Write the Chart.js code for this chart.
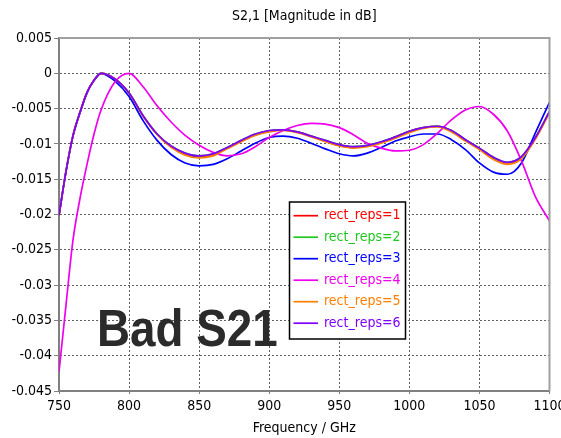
<!DOCTYPE html>
<html>
<head>
<meta charset="utf-8">
<script src="https://cdn.jsdelivr.net/npm/chart.js@4"></script>
<style>
  html, body { margin: 0; padding: 0; background: #fff; }
  #wrap { width: 561px; height: 438px; }
</style>
</head>
<body>
<div id="wrap"><canvas id="chart" width="561" height="438"></canvas></div>
<script>
const FONT = '"DejaVu Sans Condensed", "DejaVu Sans", sans-serif';

const freq = [750, 755, 760, 765, 770, 775, 780, 790, 800, 810, 820, 830, 840, 850, 860, 870, 880, 890, 900,
    910, 920, 930, 940, 950, 960, 970, 980, 990, 1000, 1010, 1020, 1030, 1040, 1050, 1060, 1070, 1080, 1090, 1100];

const reps1 = [-0.0201, -0.0139, -0.0088, -0.0055, -0.0027, -0.0010, 0.0000, -0.0008, -0.0028, -0.0060, -0.0086,
    -0.0104, -0.0114, -0.0118, -0.0115, -0.0106, -0.0096, -0.0087, -0.0082, -0.0080, -0.0083, -0.0089, -0.0096,
    -0.0102, -0.0105, -0.0103, -0.0098, -0.0090, -0.0082, -0.0077, -0.0075, -0.0081, -0.0094, -0.0107, -0.0120,
    -0.0127, -0.0119, -0.0091, -0.0055];
const reps2 = [-0.0201, -0.0139, -0.0088, -0.0055, -0.0027, -0.0010, 0.0000, -0.0008, -0.0028, -0.0060, -0.0086,
    -0.0103, -0.0113, -0.0117, -0.0114, -0.0105, -0.0095, -0.0086, -0.0081, -0.0080, -0.0083, -0.0089, -0.0095,
    -0.0101, -0.0104, -0.0102, -0.0097, -0.0090, -0.0082, -0.0077, -0.0075, -0.0081, -0.0094, -0.0106, -0.0119,
    -0.0126, -0.0118, -0.0091, -0.0054];
const reps3 = [-0.0201, -0.0139, -0.0089, -0.0056, -0.0028, -0.0010, 0.0000, -0.0011, -0.0033, -0.0067, -0.0095,
    -0.0115, -0.0127, -0.0131, -0.0129, -0.0121, -0.0110, -0.0099, -0.0091, -0.0089, -0.0092, -0.0099, -0.0107,
    -0.0114, -0.0117, -0.0113, -0.0105, -0.0096, -0.0090, -0.0086, -0.0086, -0.0094, -0.0108, -0.0127, -0.0140,
    -0.0143, -0.0127, -0.0084, -0.0041];
const reps4 = [-0.0423, -0.0328, -0.0236, -0.0177, -0.0129, -0.0086, -0.0052, -0.0012, 0.0000, -0.0019, -0.0046,
    -0.0069, -0.0088, -0.0102, -0.0112, -0.0117, -0.0114, -0.0104, -0.0091, -0.0081, -0.0074, -0.0071, -0.0072,
    -0.0077, -0.0087, -0.0099, -0.0106, -0.0110, -0.0109, -0.0101, -0.0085, -0.0066, -0.0052, -0.0047, -0.0058,
    -0.0082, -0.0124, -0.0175, -0.0209];
const reps5 = [-0.0201, -0.0139, -0.0088, -0.0055, -0.0027, -0.0010, 0.0000, -0.0008, -0.0028, -0.0061, -0.0087,
    -0.0105, -0.0116, -0.0120, -0.0117, -0.0107, -0.0097, -0.0088, -0.0083, -0.0081, -0.0084, -0.0090, -0.0097,
    -0.0103, -0.0106, -0.0104, -0.0099, -0.0092, -0.0084, -0.0078, -0.0076, -0.0083, -0.0096, -0.0108, -0.0122,
    -0.0129, -0.0121, -0.0093, -0.0056];
const reps6 = [-0.0201, -0.0139, -0.0088, -0.0055, -0.0027, -0.0010, 0.0000, -0.0008, -0.0028, -0.0060, -0.0086,
    -0.0103, -0.0113, -0.0117, -0.0114, -0.0105, -0.0095, -0.0086, -0.0081, -0.0080, -0.0083, -0.0089, -0.0095,
    -0.0101, -0.0104, -0.0102, -0.0097, -0.0090, -0.0082, -0.0077, -0.0075, -0.0081, -0.0094, -0.0106, -0.0119,
    -0.0126, -0.0118, -0.0091, -0.0054];

const seriesNames = ['rect_reps=1', 'rect_reps=2', 'rect_reps=3', 'rect_reps=4', 'rect_reps=5', 'rect_reps=6'];
const seriesValues = [reps1, reps2, reps3, reps4, reps5, reps6];
const seriesColors = ['#ff0000', '#1ec81e', '#0000ff', '#ee00ee', '#ff8000', '#8000ff'];

const xTicks = [750, 800, 850, 900, 950, 1000, 1050, 1100];
const yTicks = [0.005, 0, -0.005, -0.01, -0.015, -0.02, -0.025, -0.03, -0.035, -0.04, -0.045];

const chartTitle = 'S2,1 [Magnitude in dB]';
const xTitle = 'Frequency / GHz';
const stampText = 'Bad S21';

// later series drawn on top, like the original plot
const datasets = seriesValues.map((vals, i) => ({
    label: seriesNames[i],
    data: freq.map((f, j) => ({ x: f, y: vals[j] })),
    borderColor: seriesColors[i],
    borderWidth: 1.7,
    pointRadius: 0,
    fill: false,
    order: seriesValues.length - i,
    cubicInterpolationMode: 'monotone'
}));

// titles, frame, stamp and the in-plot legend
const decorations = {
    id: 'decorations',
    afterDraw(chart) {
        const ctx = chart.ctx;
        const a = chart.chartArea;
        const cx = (a.left + a.right) / 2;
        ctx.save();

        // frame on top and right
        ctx.strokeStyle = '#a0a0a0';
        ctx.lineWidth = 2;
        ctx.beginPath();
        ctx.moveTo(a.left, a.top);
        ctx.lineTo(a.right, a.top);
        ctx.lineTo(a.right, a.bottom);
        ctx.stroke();

        ctx.fillStyle = '#000';
        ctx.font = '14px ' + FONT;
        ctx.textAlign = 'center';
        ctx.textBaseline = 'middle';
        ctx.fillText(chartTitle, cx, 16);
        ctx.fillText(xTitle, cx, 428);

        // big stamp
        ctx.save();
        ctx.fillStyle = '#2b2b2b';
        ctx.font = 'bold 52px "Liberation Sans", Arial, sans-serif';
        ctx.textAlign = 'left';
        ctx.textBaseline = 'alphabetic';
        ctx.translate(97, 346);
        ctx.scale(0.88, 1);
        ctx.fillText(stampText, 0, 0);
        ctx.restore();

        // legend box
        const bx = 289.5, by = 202, bw = 116, bh = 137;
        ctx.fillStyle = '#fff';
        ctx.fillRect(bx, by, bw, bh);
        ctx.strokeStyle = '#000';
        ctx.lineWidth = 1.5;
        ctx.strokeRect(bx, by, bw, bh);
        ctx.font = '14px ' + FONT;
        ctx.textAlign = 'left';
        seriesNames.forEach((name, i) => {
            const y = 215.7 + i * 21.5;
            ctx.strokeStyle = seriesColors[i];
            ctx.lineWidth = 1.7;
            ctx.beginPath();
            ctx.moveTo(293.5, y);
            ctx.lineTo(318, y);
            ctx.stroke();
            ctx.fillStyle = seriesColors[i];
            ctx.fillText(name, 324, y);
        });
        ctx.restore();
    }
};

new Chart(document.getElementById('chart'), {
    type: 'line',
    data: { datasets: datasets },
    options: {
        responsive: false,
        animation: false,
        layout: { padding: { left: 0, right: 11.5, top: 38, bottom: 0 } },
        plugins: {
            legend: { display: false },
            title: { display: false },
            tooltip: { enabled: false }
        },
        scales: {
            x: {
                type: 'linear',
                min: 750,
                max: 1100,
                afterBuildTicks: (s) => { s.ticks = xTicks.map(v => ({ value: v })); },
                afterFit: (s) => { s.height = 47; s.paddingLeft = 0; s.paddingRight = 0; },
                grid: {
                    color: '#606060',
                    lineWidth: 1,
                    tickLength: 3,
                    tickColor: '#808080',
                    tickBorderDash: [],
                    drawOnChartArea: true
                },
                border: { display: true, color: '#808080', width: 2, dash: [2, 2] },
                ticks: {
                    color: '#000',
                    padding: 4,
                    maxRotation: 0,
                    font: { family: FONT, size: 14 },
                    callback: (v) => String(v)
                }
            },
            y: {
                min: -0.045,
                max: 0.005,
                afterBuildTicks: (s) => { s.ticks = yTicks.map(v => ({ value: v })); },
                afterFit: (s) => { s.width = 59; s.paddingTop = 0; s.paddingBottom = 0; },
                grid: {
                    color: '#606060',
                    lineWidth: 1,
                    tickLength: 5,
                    tickColor: '#808080',
                    tickBorderDash: []
                },
                border: { display: true, color: '#808080', width: 2, dash: [2, 2] },
                ticks: {
                    color: '#000',
                    padding: 2,
                    font: { family: FONT, size: 14 },
                    callback: (v) => String(Number(v.toFixed(3)))
                }
            }
        }
    },
    plugins: [decorations]
});
</script>
</body>
</html>
